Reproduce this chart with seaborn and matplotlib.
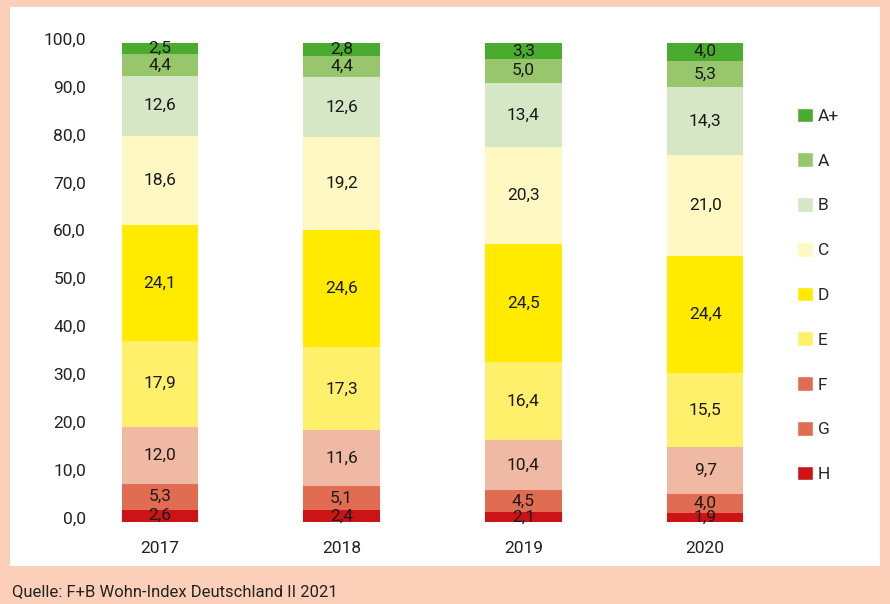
import numpy as np
import pandas as pd
import matplotlib
matplotlib.use('Agg')
import matplotlib.pyplot as plt
import matplotlib.transforms as mtransforms
from matplotlib.patches import Rectangle, Patch
import seaborn as sns

# data: energy efficiency classes per year (share in %)
years = ['2017', '2018', '2019', '2020']
classes = ['H', 'G', 'F', 'E', 'D', 'C', 'B', 'A', 'A+']
shares = {
    'H':  [2.6, 2.4, 2.1, 1.9],
    'G':  [5.3, 5.1, 4.5, 4.0],
    'F':  [12.0, 11.6, 10.4, 9.7],
    'E':  [17.9, 17.3, 16.4, 15.5],
    'D':  [24.1, 24.6, 24.5, 24.4],
    'C':  [18.6, 19.2, 20.3, 21.0],
    'B':  [12.6, 12.6, 13.4, 14.3],
    'A':  [4.4, 4.4, 5.0, 5.3],
    'A+': [2.5, 2.8, 3.3, 4.0],
}
yticks = [0, 10, 20, 30, 40, 50, 60, 70, 80, 90, 100]
source = 'Quelle: F+B Wohn-Index Deutschland II 2021'

bar_colors = {'H': '#cc1417', 'G': '#e06c52', 'F': '#efb9a3', 'E': '#fff06b',
              'D': '#ffea00', 'C': '#fff8c2', 'B': '#d5e7c4', 'A': '#98c66c',
              'A+': '#4bab2f'}
legend_colors = dict(bar_colors)
legend_colors['F'] = '#e06c52'  # legend swatch for F looks like G in the original

sns.set_theme(style='white')
plt.rcParams['font.family'] = ['Roboto', 'DejaVu Sans']

df = pd.DataFrame(shares, index=years)
df.index.name = 'year'
df = df.reset_index()

fig = plt.figure(figsize=(8.9, 6.04), dpi=100, facecolor='#fcd0b8')
fig.patches.append(Rectangle((10/890, 38/604), 870/890, 559/604, transform=fig.transFigure,
                             facecolor='white', edgecolor='none', zorder=-10))
ax = fig.add_axes([95/890, 82/604, 701/890, 479.5/604])
ax.set_facecolor('none')
ax.set_zorder(5)

bottom = np.zeros(len(years))
for c in classes:
    sns.barplot(data=df, x='year', y=c, color=bar_colors[c], width=0.42,
                bottom=bottom, ax=ax, saturation=1, edgecolor='none', linewidth=0)
    for i, v in enumerate(df[c]):
        ax.text(i, bottom[i] + v / 2, f'{v:.1f}'.replace('.', ','), ha='center', va='center',
                fontsize=12.5, color='#1a1a1a')
    bottom = bottom + df[c].values

ax.set_xlim(-0.357, 3.5)
ax.set_ylim(0, 100)
ax.set_yticks(yticks)
ax.set_yticklabels([f'{t:.1f}'.replace('.', ',') for t in yticks], fontsize=12.5, color='#222222')
ax.tick_params(axis='x', labelsize=12.5, colors='#222222', pad=13.5, length=0)
ax.tick_params(axis='y', pad=6.5, length=0)
# y labels sit a little above their gridline value in the original
shift = mtransforms.ScaledTranslation(0, 4/100, fig.dpi_scale_trans)
for lab in ax.get_yticklabels():
    lab.set_transform(lab.get_transform() + shift)
ax.set_xlabel('')
ax.set_ylabel('')
sns.despine(ax=ax, left=True, bottom=True)

handles = [Patch(facecolor=legend_colors[c], label=c) for c in classes[::-1]]
fig.legend(handles=handles, loc='upper left', bbox_to_anchor=(781/890, 1 - 92/604),
           frameon=False, fontsize=12.5, labelspacing=1.64, handlelength=0.92,
           handleheight=0.92, handletextpad=0.3)

fig.text(12/890, 5/604, source, fontsize=12, color='#222222', ha='left', va='bottom')

fig.savefig('out.png', dpi=100, facecolor=fig.get_facecolor())
